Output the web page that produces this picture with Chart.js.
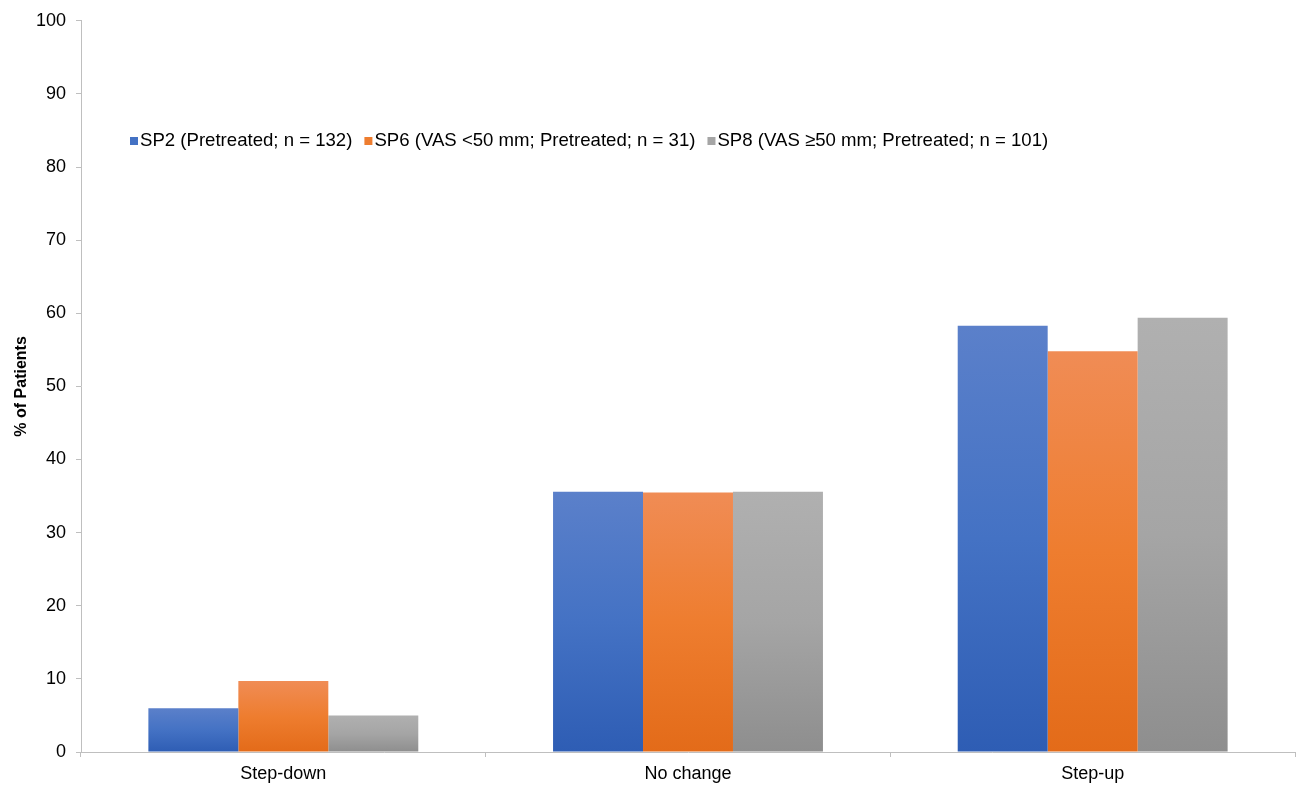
<!DOCTYPE html>
<html>
<head>
<meta charset="utf-8">
<script src="https://cdn.jsdelivr.net/npm/chart.js@4"></script>
<style>
  html, body { margin: 0; padding: 0; background: #fff; }
  #wrap { width: 1297px; height: 787px; }
</style>
</head>
<body>
<div id="wrap"><canvas id="chart"></canvas></div>
<script>
// data
const categories = ['Step-down', 'No change', 'Step-up'];
const seriesNames = [
  'SP2 (Pretreated; n = 132)',
  'SP6 (VAS <50 mm; Pretreated; n = 31)',
  'SP8 (VAS \u226550 mm; Pretreated; n = 101)'
];
const sp2 = [6.0, 35.6, 58.3];
const sp6 = [9.7, 35.5, 54.8];
const sp8 = [5.0, 35.6, 59.4];
const yTicks = [0, 10, 20, 30, 40, 50, 60, 70, 80, 90, 100];

// top / middle / bottom colours of each bar's gradient
const shades = [
  ['#5b80ca', '#4472c4', '#2e5db4'],
  ['#f08c55', '#ee7d2f', '#e36b19'],
  ['#b0b0b0', '#a5a5a5', '#8e8e8e']
];

const FONT = '"Liberation Sans", Arial, sans-serif';

function barFill(i) {
  return function (ctx) {
    const chart = ctx.chart;
    if (!chart.chartArea || !chart.scales.y || ctx.type !== 'data') return shades[i][1];
    const y = chart.scales.y;
    const top = y.getPixelForValue(ctx.raw);
    const base = y.getPixelForValue(0);
    if (!isFinite(top) || !isFinite(base) || base - top < 1) return shades[i][1];
    const g = chart.ctx.createLinearGradient(0, top, 0, base);
    g.addColorStop(0, shades[i][0]);
    g.addColorStop(0.5, shades[i][1]);
    g.addColorStop(1, shades[i][2]);
    return g;
  };
}

// legend sits inside the plot, near the top left
const insideLegend = {
  id: 'insideLegend',
  afterDraw(chart) {
    const c = chart.ctx;
    c.save();
    c.font = '18.6px ' + FONT;
    c.textBaseline = 'middle';
    let x = 130;
    const y = 141;
    chart.data.datasets.forEach((ds, i) => {
      c.fillStyle = shades[i][1];
      c.fillRect(x, y - 4, 8, 8);
      c.fillStyle = '#000';
      c.fillText(ds.label, x + 10, y);
      x += 10 + c.measureText(ds.label).width + 12;
    });
    c.restore();
  }
};

const datasets = [sp2, sp6, sp8].map((vals, i) => ({
  label: seriesNames[i],
  data: vals,
  backgroundColor: barFill(i),
  borderWidth: 0,
  categoryPercentage: 0.667,
  barPercentage: 1.0
}));

new Chart(document.getElementById('chart'), {
  type: 'bar',
  data: { labels: categories, datasets: datasets },
  options: {
    responsive: true,
    maintainAspectRatio: false,
    animation: false,
    layout: { padding: { top: 20, right: 2, left: 0, bottom: 0 } },
    plugins: {
      legend: { display: false },
      tooltip: { enabled: false }
    },
    scales: {
      x: {
        grid: { drawOnChartArea: false, drawTicks: true, tickLength: 5, color: '#bfbfbf' },
        border: { color: '#bfbfbf', width: 1 },
        ticks: { color: '#000', font: { family: FONT, size: 18 }, padding: 6 },
        afterFit(scale) { scale.height = 35; }
      },
      y: {
        min: 0,
        max: 100,
        afterBuildTicks(scale) { scale.ticks = yTicks.map(v => ({ value: v })); },
        grid: { drawOnChartArea: false, drawTicks: true, tickLength: 5, color: '#bfbfbf' },
        border: { color: '#bfbfbf', width: 1 },
        ticks: { color: '#000', font: { family: FONT, size: 18 }, padding: 10 },
        title: {
          display: true,
          text: '% of Patients',
          color: '#000',
          font: { family: FONT, size: 16, weight: 'bold' },
          padding: { top: 12, bottom: 0 }
        },
        afterFit(scale) { scale.width = 81; }
      }
    }
  },
  plugins: [insideLegend]
});
</script>
</body>
</html>
